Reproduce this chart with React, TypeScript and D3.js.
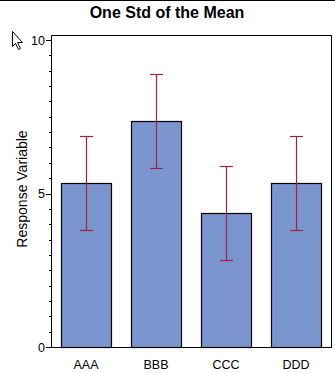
import React from "react";
import * as d3 from "d3";

const categories = ["AAA", "BBB", "CCC", "DDD"];
const means = [5.35, 7.35, 4.35, 5.35];
const upper = [6.88, 8.88, 5.88, 6.88];
const lower = [3.82, 5.82, 2.82, 3.82];
const majorTicks = [0, 5, 10];
const minorTicks = d3.range(0, 10.01, 0.5);

const W = 335;
const H = 373;
const frame = { left: 51, right: 331, top: 35, bottom: 347 };

export default function App() {
  const x = d3
    .scaleBand<string>()
    .domain(categories)
    .range([frame.left, frame.right])
    .paddingInner(0.2857)
    .paddingOuter(0.1428);
  const y = d3.scaleLinear().domain([0, 10]).range([347, 40]);
  const font = "'Liberation Sans', Arial, sans-serif";
  const barColor = "#7b96cf";
  const errColor = "#a1223e";
  const capHalf = 6.5;

  return (
    <svg
      width={W}
      height={H}
      style={{ position: "absolute", left: 0, top: 0, background: "#fff" }}
      fontFamily={font}
    >
      <rect x={0} y={0} width={W} height={H} fill="#fff" />
      <line x1={0} x2={W} y1={0.5} y2={0.5} stroke="#000" strokeWidth={1} />
      <text
        x={167}
        y={18}
        textAnchor="middle"
        fontSize={16}
        fontWeight="bold"
        fill="#000"
      >
        One Std of the Mean
      </text>
      {/* cursor artifact */}
      <path
        d="M12.5,31.5 L12.5,46.5 L15.5,43.5 L18.5,49.5 L20.5,48.5 L17.5,42.5 L22.5,42.5 Z"
        fill="#fff"
        stroke="#000"
        strokeWidth={1}
      />
      {/* frame */}
      <rect
        x={frame.left + 0.5}
        y={frame.top + 0.5}
        width={frame.right - frame.left}
        height={frame.bottom - frame.top}
        fill="none"
        stroke="#000"
        strokeWidth={1}
      />
      {/* minor ticks */}
      {minorTicks.map((t) => (
        <line
          key={"m" + t}
          x1={frame.left - 2}
          x2={frame.left}
          y1={Math.round(y(t)) + 0.5}
          y2={Math.round(y(t)) + 0.5}
          stroke="#000"
        />
      ))}
      {majorTicks.map((t) => (
        <g key={"t" + t}>
          <line
            x1={frame.left - 5}
            x2={frame.left}
            y1={Math.round(y(t)) + 0.5}
            y2={Math.round(y(t)) + 0.5}
            stroke="#000"
          />
          <text
            x={frame.left - 6}
            y={y(t) + 4.5}
            textAnchor="end"
            fontSize={12.5}
            fill="#000"
          >
            {t}
          </text>
        </g>
      ))}
      <text
        transform={`translate(27,189) rotate(-90)`}
        textAnchor="middle"
        fontSize={14}
        fill="#000"
      >
        Response Variable
      </text>
      {/* bars */}
      {categories.map((c, i) => (
        <rect
          key={"b" + c}
          x={Math.round(x(c)!) + 0.5}
          y={Math.round(y(means[i])) + 0.5}
          width={x.bandwidth()}
          height={Math.round(y(0)) - Math.round(y(means[i]))}
          fill={barColor}
          stroke="#000"
          strokeWidth={1.2}
        />
      ))}
      {/* error bars */}
      {categories.map((c, i) => {
        const cx = Math.round(x(c)! + x.bandwidth() / 2) + 0.5;
        const yu = Math.round(y(upper[i])) + 0.5;
        const yl = Math.round(y(lower[i])) + 0.5;
        return (
          <g key={"e" + c} stroke={errColor} strokeWidth={1.2}>
            <line x1={cx} x2={cx} y1={yu} y2={yl} />
            <line x1={cx - capHalf} x2={cx + capHalf} y1={yu} y2={yu} />
            <line x1={cx - capHalf} x2={cx + capHalf} y1={yl} y2={yl} />
          </g>
        );
      })}
      {categories.map((c) => (
        <text
          key={"x" + c}
          x={x(c)! + x.bandwidth() / 2}
          y={369}
          textAnchor="middle"
          fontSize={12.5}
          fill="#000"
        >
          {c}
        </text>
      ))}
    </svg>
  );
}
